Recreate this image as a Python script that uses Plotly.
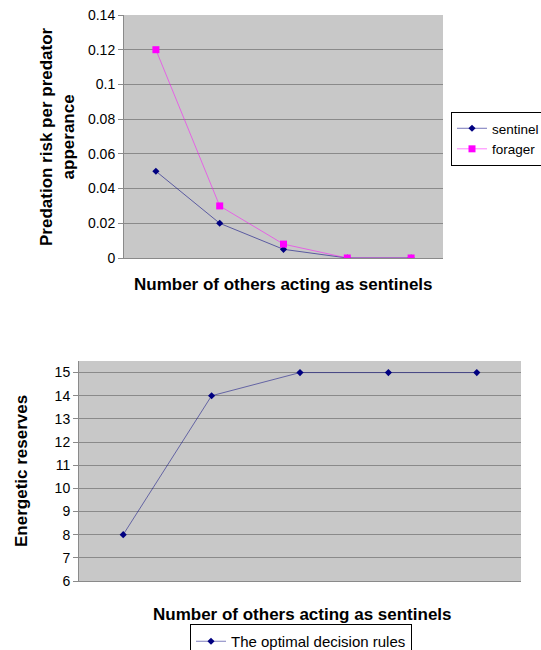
import plotly.graph_objects as go

# Number of other group members acting as sentinels (categories, unlabeled on axis)
others = ["0", "1", "2", "3", "4"]

# Predation risk per predator appearance
sentinel_risk = [0.05, 0.02, 0.005, 0.0, 0.0]
forager_risk = [0.12, 0.03, 0.008, 0.0, 0.0]

# Energetic reserves under the optimal decision rules
reserves = [8, 14, 15, 15, 15]

W, H = 541, 650
FONT = "Liberation Sans, Arial, sans-serif"
PLOT_BG = "#c8c8c8"
GRID = "#8a8a8a"

fig = go.Figure()

fig.add_trace(go.Scatter(
    x=others, y=sentinel_risk, name="sentinel", mode="lines+markers",
    line=dict(color="rgba(0,0,128,0.55)", width=1),
    marker=dict(symbol="diamond", size=5.5, color="#000080"),
    xaxis="x", yaxis="y", legend="legend",
))
fig.add_trace(go.Scatter(
    x=others, y=forager_risk, name="forager", mode="lines+markers",
    line=dict(color="rgba(255,0,255,0.5)", width=1),
    marker=dict(symbol="square", size=7, color="#ff00ff"),
    xaxis="x", yaxis="y", legend="legend",
))
fig.add_trace(go.Scatter(
    x=others, y=reserves, name="The optimal decision rules", mode="lines+markers",
    line=dict(color="rgba(0,0,128,0.5)", width=1),
    marker=dict(symbol="diamond", size=5.5, color="#000080"),
    xaxis="x2", yaxis="y2", legend="legend2",
))

def px_x(p):
    return p / W

def px_y(p):
    return 1 - p / H

xcommon = dict(type="category", range=[-0.5, 4.5], showticklabels=False,
               showgrid=False, zeroline=False, showline=True,
               linecolor=GRID, linewidth=1, ticks="", fixedrange=True)
ycommon = dict(showgrid=True, gridcolor=GRID, gridwidth=1, zeroline=False,
               showline=True, linecolor=GRID, linewidth=1,
               ticks="outside", ticklen=5, tickcolor=GRID,
               tickfont=dict(family=FONT, size=14, color="black"))

title_font = dict(family=FONT, size=17, color="black")

fig.update_layout(
    width=W, height=H,
    margin=dict(l=0, r=0, t=0, b=0, autoexpand=False),
    paper_bgcolor="white",
    plot_bgcolor=PLOT_BG,
    font=dict(family=FONT, color="black"),
    xaxis=dict(domain=[px_x(124), px_x(443)], anchor="y", **xcommon),
    yaxis=dict(domain=[px_y(258), px_y(15)], anchor="x", range=[0, 0.14],
               dtick=0.02, **ycommon),
    xaxis2=dict(domain=[px_x(79), px_x(521)], anchor="y2", **xcommon),
    yaxis2=dict(domain=[px_y(581), px_y(361)], anchor="x2", range=[6, 15.5],
                tickvals=list(range(6, 16)), **ycommon),
    legend=dict(x=px_x(451), y=px_y(112), xanchor="left", yanchor="top",
                bgcolor="white", bordercolor="black", borderwidth=1,
                font=dict(family=FONT, size=13.5), tracegroupgap=0,
                itemwidth=30),
    legend2=dict(x=px_x(190), y=px_y(624), xanchor="left", yanchor="top",
                 orientation="h", bgcolor="white", bordercolor="black",
                 borderwidth=1, font=dict(family=FONT, size=15),
                 itemwidth=30),
    annotations=[
        dict(text="<b>Predation risk per predator<br>apperance</b>",
             x=px_x(57), y=px_y(137), xref="paper", yref="paper",
             xanchor="center", yanchor="middle",
             textangle=-90, showarrow=False, font=title_font),
        dict(text="<b>Number of others acting as sentinels</b>",
             x=px_x(283), y=px_y(284), xref="paper", yref="paper",
             xanchor="center", yanchor="middle",
             showarrow=False, font=title_font),
        dict(text="<b>Energetic reserves</b>",
             x=px_x(21), y=px_y(471), xref="paper", yref="paper",
             xanchor="center", yanchor="middle",
             textangle=-90, showarrow=False, font=title_font),
        dict(text="<b>Number of others acting as sentinels</b>",
             x=px_x(302), y=px_y(614), xref="paper", yref="paper",
             xanchor="center", yanchor="middle",
             showarrow=False, font=title_font),
    ],
)

fig.write_html("out.html")
